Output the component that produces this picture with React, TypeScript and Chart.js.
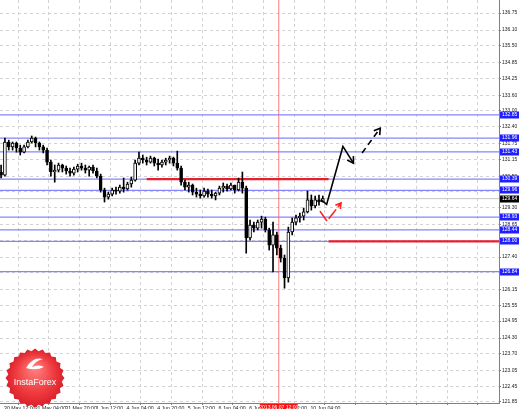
import React, { useEffect, useRef } from 'react';
import { Chart, registerables } from 'chart.js';

Chart.register(...registerables);

// ---- Candle data (2-hour candles, hour offset from 30 May 12:00) ----
const opens = [
  130.66, 130.54, 131.81, 131.62, 131.77, 131.58, 131.42, 131.62, 131.81, 131.96,
  131.77, 131.62, 131.50, 131.04, 130.66, 130.73, 130.93, 130.81, 130.70, 130.62,
  130.77, 130.89, 130.81, 130.73, 130.85, 130.70, 130.50, 129.97, 129.70, 129.81,
  129.97, 129.93, 130.08, 130.01, 130.20, 130.35, 131.00, 131.19, 131.12, 131.04,
  131.19, 131.00, 130.93, 131.04, 131.12, 131.19, 131.00, 130.81, 130.27, 130.08,
  130.16, 129.89, 129.81, 129.74, 129.93, 129.81, 129.74, 129.85, 130.04, 130.12,
  130.01, 130.16, 129.97, 130.27, 130.04, 128.13, 128.63, 128.51, 128.74, 128.86,
  128.44, 127.86, 128.25, 127.74, 127.36, 126.60, 128.36, 128.74, 128.90, 128.97,
  129.13, 129.59, 129.36, 129.59, 129.51,
];
const highs = [
  130.93, 131.96, 131.88, 131.81, 131.81, 131.69, 131.69, 131.88, 132.04, 132.00,
  131.81, 131.69, 131.58, 131.12, 130.93, 131.00, 130.96, 130.89, 130.81, 130.85,
  130.96, 131.00, 130.93, 130.89, 130.93, 130.81, 130.58, 130.04, 129.89, 130.04,
  130.08, 130.16, 130.43, 130.27, 130.47, 131.12, 131.42, 131.31, 131.23, 131.27,
  131.23, 131.16, 131.12, 131.19, 131.27, 131.23, 131.46, 130.89, 130.35, 130.27,
  130.20, 130.04, 129.97, 130.04, 130.01, 129.97, 129.89, 130.12, 130.24, 130.20,
  130.24, 130.16, 130.43, 130.66, 130.12, 128.82, 128.74, 128.82, 128.97, 128.93,
  128.51, 128.74, 128.36, 127.86, 127.48, 128.55, 128.90, 129.01, 129.09, 129.28,
  129.93, 129.78, 129.74, 129.78, 129.74,
];
const lows = [
  130.43, 130.50, 131.50, 131.50, 131.42, 131.31, 131.39, 131.58, 131.77, 131.62,
  131.50, 131.39, 130.93, 130.50, 130.27, 130.66, 130.66, 130.58, 130.50, 130.54,
  130.66, 130.73, 130.62, 130.50, 130.62, 130.43, 129.89, 129.51, 129.62, 129.74,
  129.81, 129.85, 129.89, 129.97, 130.08, 130.31, 130.93, 131.00, 130.93, 131.00,
  130.89, 130.73, 130.85, 130.93, 131.00, 130.89, 130.73, 130.16, 129.97, 129.89,
  129.78, 129.70, 129.66, 129.70, 129.70, 129.66, 129.59, 129.78, 129.89, 129.93,
  129.97, 129.85, 129.93, 129.85, 127.55, 128.05, 128.36, 128.44, 128.51, 128.36,
  127.67, 126.83, 127.48, 127.21, 126.21, 126.44, 128.25, 128.63, 128.74, 128.82,
  129.09, 129.20, 129.28, 129.39, 129.51,
];
const closes = [
  130.54, 131.81, 131.62, 131.77, 131.58, 131.42, 131.62, 131.81, 131.96, 131.77,
  131.62, 131.50, 131.04, 130.66, 130.73, 130.93, 130.81, 130.70, 130.62, 130.77,
  130.89, 130.81, 130.73, 130.85, 130.70, 130.50, 129.97, 129.70, 129.81, 129.97,
  129.93, 130.08, 130.01, 130.20, 130.35, 131.00, 131.19, 131.12, 131.04, 131.19,
  131.00, 130.93, 131.04, 131.12, 131.19, 131.00, 130.81, 130.27, 130.08, 130.16,
  129.89, 129.81, 129.74, 129.93, 129.81, 129.74, 129.85, 130.04, 130.12, 130.01,
  130.16, 129.97, 130.27, 130.04, 128.13, 128.63, 128.51, 128.74, 128.86, 128.44,
  127.86, 128.25, 127.74, 127.36, 126.60, 128.36, 128.74, 128.90, 128.97, 129.13,
  129.59, 129.36, 129.59, 129.51, 129.64,
];
const firstBarHour = -1;
const hoursPerBar = 2;

// ---- Axes ----
const xMin = -1.57;
const xMax = 259.0;
const yMin = 121.81;
const yMax = 137.25;
const xTickHours = [0, 16, 32, 48, 64, 80, 96, 112, 128, 144, 160, 176, 192, 208, 224, 240, 256];
const xTickLabels = [
  '30 May 12:00', '31 May 04:00', '31 May 20:00', '1 Jun 12:00', '4 Jun 04:00',
  '4 Jun 20:00', '5 Jun 12:00', '6 Jun 04:00', '6 Jun 20:00', '7 Jun 12:00', '10 Jun 04:00',
];
const yTickValues = [
  136.75, 136.10, 135.50, 134.85, 134.25, 133.60, 133.00, 132.40, 131.75, 131.15,
  130.50, 129.90, 129.30, 128.65, 128.05, 127.40, 126.80, 126.15, 125.55, 124.95,
  124.30, 123.70, 123.05, 122.45, 121.85,
];

// ---- Drawn levels and analysis marks ----
const blueLevels = [132.85, 131.96, 131.43, 130.39, 129.96, 128.93, 128.44, 128.00, 126.84];
const currentPrice = 129.64;
const redLevelPrices = [130.39, 128.00];
const redLevelStarts = [75, 170];
const redLevelEnds = [170, 259];
const markerHour = 144;
const markerLabel = '2013.06.07 12:00';
const solidArrowHours = [166, 169, 177.5, 183];
const solidArrowPrices = [129.6, 129.42, 131.64, 131.0];
const dashArrowHours = [187.5, 197];
const dashArrowPrices = [131.39, 132.34];
const redArrowHours = [165.5, 169.2, 176.5];
const redArrowPrices = [129.16, 128.78, 129.47];

const FONT = 'Liberation Sans, Arial, sans-serif';

// draw tiny text at a fractional size without glyph-advance rounding
function tinyText(ctx: any, text: string, x: number, y: number, size: number) {
  const k = size / 20;
  ctx.save();
  ctx.translate(x, y);
  ctx.scale(k, k);
  ctx.font = `20px ${FONT}`;
  ctx.fillText(text, 0, 0);
  ctx.restore();
}

const decorPlugin = {
  id: 'decor',
  afterDatasetsDraw(chart: any) {
    const ctx = chart.ctx;
    chart.data.datasets.forEach((ds: any, i: number) => {
      if (!ds.arrowHead) return;
      const pts = chart.getDatasetMeta(i).data;
      const a = pts[pts.length - 2];
      const b = pts[pts.length - 1];
      const ang = Math.atan2(b.y - a.y, b.x - a.x);
      const L = ds.arrowHead;
      ctx.save();
      ctx.strokeStyle = ds.borderColor;
      ctx.lineWidth = ds.borderWidth;
      ctx.setLineDash([]);
      ctx.beginPath();
      ctx.moveTo(b.x - L * Math.cos(ang - 0.55), b.y - L * Math.sin(ang - 0.55));
      ctx.lineTo(b.x, b.y);
      ctx.lineTo(b.x - L * Math.cos(ang + 0.55), b.y - L * Math.sin(ang + 0.55));
      ctx.stroke();
      ctx.restore();
    });
  },
  afterDraw(chart: any) {
    const { ctx, scales, chartArea } = chart;
    const x = scales.x;
    const y = scales.y;
    ctx.save();

    // time axis labels (left-aligned at their tick, MetaTrader style)
    ctx.fillStyle = '#222222';
    ctx.textAlign = 'left';
    ctx.textBaseline = 'top';
    xTickLabels.forEach((lab, i) => {
      const px = x.getPixelForValue(xTickHours[i]);
      tinyText(ctx, lab, px + 1, chartArea.bottom + 2.5, 5.2);
    });

    // price highlight boxes on the right axis
    ctx.textBaseline = 'middle';
    ctx.textAlign = 'left';
    const box = (v: number, color: string) => {
      const py = Math.round(y.getPixelForValue(v));
      ctx.fillStyle = color;
      ctx.fillRect(chartArea.right + 1, py - 3.5, 20, 7);
      ctx.fillStyle = '#ffffff';
      tinyText(ctx, v.toFixed(2), chartArea.right + 3, py, 5);
    };
    blueLevels.forEach((v) => box(v, '#1e1eff'));
    box(currentPrice, '#000000');

    // time marker box
    const mx = x.getPixelForValue(markerHour);
    ctx.fillStyle = '#ff1010';
    ctx.fillRect(mx - 19, chartArea.bottom + 1, 38, 7);
    ctx.fillStyle = '#ffffff';
    ctx.textAlign = 'center';
    ctx.textBaseline = 'middle';
    tinyText(ctx, markerLabel, mx, chartArea.bottom + 4.5, 5);

    // logo badge
    const cx = 35, cy = 378, R = 29.5, r = 27, n = 24;
    ctx.beginPath();
    for (let k = 0; k <= 2 * n; k++) {
      const a = (k * Math.PI) / n - Math.PI / 2;
      const rad = k % 2 === 0 ? R : r;
      const px = cx + rad * Math.cos(a);
      const py = cy + rad * Math.sin(a);
      if (k === 0) ctx.moveTo(px, py);
      else ctx.lineTo(px, py);
    }
    ctx.closePath();
    const g = ctx.createRadialGradient(cx, cy - 10, 3, cx, cy, R);
    g.addColorStop(0, '#ff7a7a');
    g.addColorStop(0.6, '#ef3b3f');
    g.addColorStop(1, '#d91f2b');
    ctx.fillStyle = g;
    ctx.fill();
    // emblem
    ctx.fillStyle = '#ffffff';
    ctx.beginPath();
    ctx.moveTo(cx - 9, cy - 10);
    ctx.quadraticCurveTo(cx - 2, cy - 22, cx + 8, cy - 19);
    ctx.quadraticCurveTo(cx, cy - 17, cx - 3, cy - 11);
    ctx.quadraticCurveTo(cx + 4, cy - 14, cx + 9, cy - 11);
    ctx.quadraticCurveTo(cx + 1, cy - 7, cx - 9, cy - 10);
    ctx.fill();
    ctx.textAlign = 'center';
    ctx.textBaseline = 'middle';
    tinyText(ctx, 'InstaForex', cx, cy + 5, 9);
    ctx.restore();
  },
};

export default function App() {
  const ref = useRef<HTMLCanvasElement | null>(null);

  useEffect(() => {
    document.body.style.margin = '0';
    const canvas = ref.current;
    if (!canvas) return;

    const barX = opens.map((_, i) => firstBarHour + i * hoursPerBar);
    const wickData = barX.map((h, i) => ({ x: h, y: [lows[i], highs[i]] }));
    const bodyData = barX.map((h, i) => ({ x: h, y: [opens[i], closes[i]] }));
    const bodyColors = opens.map((o, i) => (closes[i] >= o ? '#ffffff' : '#000000'));

    const levelSets: any[] = blueLevels.map((v) => ({
      type: 'line',
      data: [{ x: xMin, y: v }, { x: xMax, y: v }],
      borderColor: '#8585ff',
      borderWidth: 1.3,
      pointRadius: 0,
      order: 30,
    }));
    const redSets: any[] = redLevelPrices.map((v, i) => ({
      type: 'line',
      data: [{ x: redLevelStarts[i], y: v }, { x: redLevelEnds[i], y: v }],
      borderColor: '#e8202c',
      borderWidth: 2.2,
      pointRadius: 0,
      order: 25,
    }));

    const chart = new Chart(canvas, {
      type: 'bar',
      data: {
        datasets: [
          ...levelSets,
          {
            type: 'line',
            data: [{ x: xMin, y: currentPrice }, { x: xMax, y: currentPrice }],
            borderColor: '#c4c4c4',
            borderWidth: 1,
            pointRadius: 0,
            order: 35,
          },
          {
            type: 'line',
            data: [{ x: markerHour, y: yMin }, { x: markerHour, y: yMax }],
            borderColor: 'rgba(255,40,40,0.6)',
            borderWidth: 1,
            pointRadius: 0,
            order: 34,
          },
          ...redSets,
          {
            type: 'bar',
            data: wickData,
            backgroundColor: '#000000',
            barThickness: 1,
            grouped: false,
            order: 10,
          },
          {
            type: 'bar',
            data: bodyData,
            backgroundColor: bodyColors,
            borderColor: '#000000',
            borderWidth: 1,
            borderSkipped: false,
            barThickness: 3,
            minBarLength: 1,
            grouped: false,
            order: 9,
          },
          {
            type: 'line',
            data: solidArrowHours.map((h, i) => ({ x: h, y: solidArrowPrices[i] })),
            borderColor: '#000000',
            borderWidth: 1.6,
            pointRadius: 0,
            tension: 0,
            arrowHead: 7,
            order: 2,
          },
          {
            type: 'line',
            data: dashArrowHours.map((h, i) => ({ x: h, y: dashArrowPrices[i] })),
            borderColor: '#000000',
            borderWidth: 1.6,
            borderDash: [6, 4],
            pointRadius: 0,
            tension: 0,
            arrowHead: 7,
            order: 2,
          },
          {
            type: 'line',
            data: redArrowHours.map((h, i) => ({ x: h, y: redArrowPrices[i] })),
            borderColor: '#ff2020',
            borderWidth: 1.6,
            borderDash: [12, 3],
            pointRadius: 0,
            tension: 0,
            arrowHead: 6,
            order: 2,
          },
        ] as any,
      },
      options: {
        responsive: false,
        animation: false,
        devicePixelRatio: 1,
        events: [],
        layout: { padding: 0 },
        plugins: { legend: { display: false }, tooltip: { enabled: false } },
        scales: {
          x: {
            type: 'linear',
            min: xMin,
            max: xMax,
            offset: false,
            afterBuildTicks: (s: any) => {
              s.ticks = xTickHours.map((v) => ({ value: v }));
            },
            afterFit: (s: any) => {
              s.height = 6;
              s.paddingLeft = 0;
              s.paddingRight = 0;
            },
            ticks: { display: false, autoSkip: false, maxRotation: 0, minRotation: 0 },
            grid: { color: '#d2d2d2', lineWidth: 1, tickLength: 2, tickColor: '#808080' },
            border: { display: true, color: '#808080', width: 1, dash: [3, 3] },
          },
          y: {
            type: 'linear',
            position: 'right',
            min: yMin,
            max: yMax,
            afterBuildTicks: (s: any) => {
              s.ticks = yTickValues.map((v) => ({ value: v }));
            },
            afterFit: (s: any) => {
              s.width = 20;
              s.paddingTop = 0;
              s.paddingBottom = 0;
            },
            ticks: {
              autoSkip: false,
              padding: 1,
              font: { size: 5, family: FONT },
              color: '#222222',
              callback: (v: any) => Number(v).toFixed(2),
            },
            grid: { color: '#d2d2d2', lineWidth: 1, tickLength: 2, tickColor: '#808080' },
            border: { display: true, color: '#808080', width: 1, dash: [3, 3] },
          },
        },
      } as any,
      plugins: [decorPlugin],
    });

    return () => chart.destroy();
  }, []);

  return (
    <div style={{ position: 'fixed', left: 0, top: 0, width: 519, height: 409, background: '#ffffff' }}>
      <canvas ref={ref} width={519} height={409} style={{ display: 'block' }} />
    </div>
  );
}
